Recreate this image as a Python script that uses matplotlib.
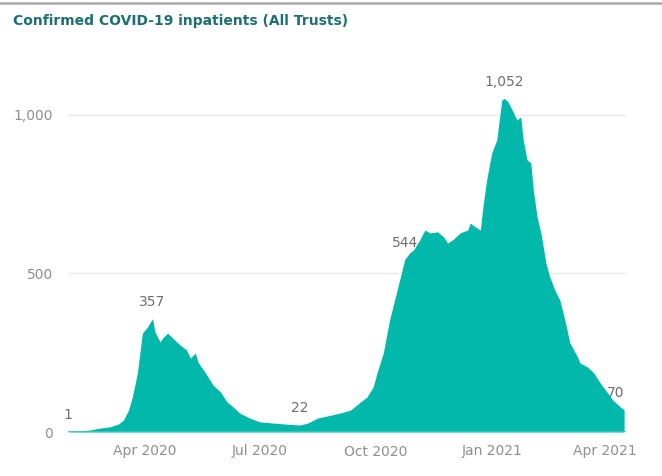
import matplotlib.pyplot as plt
import matplotlib.dates as mdates
from matplotlib.lines import Line2D
import pandas as pd

# confirmed inpatients
dates = [
    "2020-01-31", "2020-02-09", "2020-02-17", "2020-02-25", "2020-03-04", "2020-03-11",
    "2020-03-15", "2020-03-19", "2020-03-22", "2020-03-26", "2020-03-28", "2020-03-30",
    "2020-04-03", "2020-04-05", "2020-04-07", "2020-04-09", "2020-04-11", "2020-04-13",
    "2020-04-15", "2020-04-19", "2020-04-23", "2020-04-29", "2020-05-04", "2020-05-07",
    "2020-05-11", "2020-05-13", "2020-05-20", "2020-05-25", "2020-05-31", "2020-06-05",
    "2020-06-10", "2020-06-15", "2020-06-18", "2020-06-23", "2020-07-01", "2020-07-12",
    "2020-07-25", "2020-08-02", "2020-08-08", "2020-08-16", "2020-08-23", "2020-09-03",
    "2020-09-11", "2020-09-19", "2020-09-24", "2020-09-29", "2020-10-02", "2020-10-07",
    "2020-10-12", "2020-10-18", "2020-10-22", "2020-10-24", "2020-10-28", "2020-10-31",
    "2020-11-05", "2020-11-09", "2020-11-13", "2020-11-19", "2020-11-24", "2020-11-27",
    "2020-12-01", "2020-12-07", "2020-12-13", "2020-12-15", "2020-12-19", "2020-12-23",
    "2020-12-25", "2020-12-28", "2021-01-01", "2021-01-05", "2021-01-09", "2021-01-11",
    "2021-01-14", "2021-01-18", "2021-01-21", "2021-01-24", "2021-01-26", "2021-01-29",
    "2021-02-01", "2021-02-03", "2021-02-06", "2021-02-09", "2021-02-13", "2021-02-16",
    "2021-02-20", "2021-02-24", "2021-02-28", "2021-03-04", "2021-03-10", "2021-03-12",
    "2021-03-18", "2021-03-23", "2021-03-28", "2021-04-03", "2021-04-07", "2021-04-13",
    "2021-04-16",
]
inpatients = [
    1, 3, 6, 12, 16, 25,
    38, 69, 110, 186, 249, 312,
    331, 345, 357, 315, 300, 284,
    296, 312, 296, 274, 259, 233,
    249, 221, 180, 148, 126, 95,
    79, 60, 54, 44, 32, 28,
    24, 22, 28, 44, 50, 60,
    69, 95, 110, 142, 186, 249,
    353, 448, 511, 544, 565, 574,
    606, 637, 628, 631, 615, 596,
    606, 628, 637, 659, 647, 637,
    710, 795, 880, 921, 1047, 1052,
    1041, 1009, 984, 994, 921, 858,
    849, 763, 678, 628, 533, 489,
    448, 416, 353, 281, 237, 218,
    205, 186, 155, 123, 101, 79,
    70,
]
# points that carry a data label
labelled = ["2020-01-31", "2020-04-07", "2020-08-02", "2020-10-24", "2021-01-11", "2021-04-16"]

df = pd.DataFrame({"date": pd.to_datetime(dates), "value": inpatients})

teal = "#01B8AA"
fig = plt.figure(figsize=(6.62, 4.76), dpi=100)
ax = fig.add_axes([68 / 662, 44 / 476, 558 / 662, 352 / 476])

ax.fill_between(df["date"], 0, df["value"], color=teal, linewidth=0, zorder=2)
ax.plot(df["date"].iloc[[0, -1]], [0, 0], color="#3CC4B8", lw=2, zorder=3)

ax.set_xlim(df["date"].iloc[0], pd.Timestamp("2021-04-17 12:00"))
ax.set_ylim(0, 1110)
ax.set_yticks([0, 500, 1000])
ax.yaxis.set_major_formatter(plt.FuncFormatter(lambda v, p: f"{int(v):,}"))
ax.xaxis.set_major_locator(mdates.MonthLocator(bymonth=[1, 4, 7, 10]))
ax.xaxis.set_major_formatter(mdates.DateFormatter("%b %Y"))
ax.grid(axis="y", color="#EAEAEA", lw=1, zorder=0)
for s in ax.spines.values():
    s.set_visible(False)
ax.tick_params(length=0, labelsize=10, labelcolor="#8F8F8F")
ax.tick_params(axis="y", pad=11)
ax.tick_params(axis="x", pad=9)

for d in labelled:
    row = df[df["date"] == pd.Timestamp(d)].iloc[0]
    ha = "right" if d == labelled[-1] else "center"
    ax.annotate(f"{row['value']:,}", (row["date"], row["value"]), xytext=(0, 7),
                textcoords="offset points", ha=ha, va="bottom", fontsize=10,
                color="#6E6E6E", zorder=4, annotation_clip=False)

fig.text(13 / 662, 1 - 21 / 476, "Confirmed COVID-19 inpatients (All Trusts)",
         fontsize=10, fontweight="bold", color="#1E6F72", va="center", ha="left")
fig.add_artist(Line2D([0, 1], [1 - 3 / 476, 1 - 3 / 476], color="#A8A8A8", lw=1.8))

fig.savefig("out.png", dpi=100)
